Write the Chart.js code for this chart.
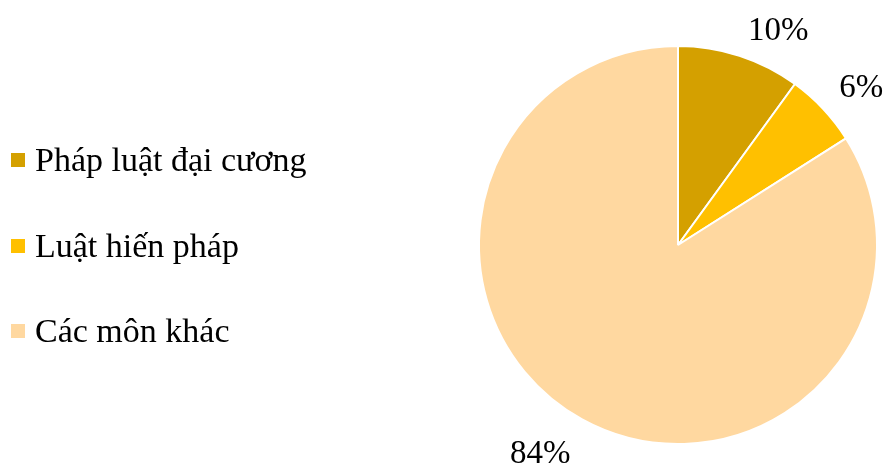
<!DOCTYPE html>
<html>
<head>
<meta charset="utf-8">
<script src="https://cdn.jsdelivr.net/npm/chart.js@4"></script>
<style>
html,body{margin:0;padding:0;background:#fff;}
#wrap{position:relative;width:887px;height:463px;}
canvas{position:absolute;left:0;top:0;}
.leg{position:absolute;left:35px;font-family:"Liberation Serif","Times New Roman",serif;font-size:34px;color:#000;line-height:34px;white-space:nowrap;}
.sq{position:absolute;left:11px;width:14px;height:14px;}
</style>
</head>
<body>
<div id="wrap">
<canvas id="c" width="887" height="463"></canvas>
<div id="legend"></div>
</div>
<script>
const categories = ["Pháp luật đại cương", "Luật hiến pháp", "Các môn khác"];
const values = [10, 6, 84];
const labels = ["10%", "6%", "84%"];
const colors = ["#D4A000", "#FFC000", "#FFD8A0"];

// HTML legend
const legendBaselines = [171, 257, 342];
const lg = document.getElementById('legend');
categories.forEach((c, i) => {
  const d = document.createElement('div');
  d.className = 'leg';
  d.style.top = (legendBaselines[i] - 28.5) + 'px';
  d.textContent = c;
  lg.appendChild(d);
  const s = document.createElement('div');
  s.className = 'sq';
  s.style.background = colors[i];
  s.style.top = (legendBaselines[i] - 18) + 'px';
  lg.appendChild(s);
});

const outLabels = {
  id: 'outLabels',
  afterDatasetsDraw(chart) {
    const ctx = chart.ctx;
    const meta = chart.getDatasetMeta(0);
    ctx.save();
    ctx.font = '33px "Liberation Serif", "Times New Roman", serif';
    ctx.fillStyle = '#000';
    meta.data.forEach((arc, i) => {
      const p = arc.getProps(['x','y','startAngle','endAngle','outerRadius'], true);
      const mid = (p.startAngle + p.endAngle) / 2;
      const R = p.outerRadius + 18;
      const ax = p.x + Math.cos(mid) * R;
      const ay = p.y + Math.sin(mid) * R;
      const right = Math.cos(mid) >= 0;
      const up = Math.sin(mid) < 0;
      ctx.textAlign = right ? 'left' : 'right';
      ctx.textBaseline = 'alphabetic';
      if (up) {
        ctx.fillText(labels[i], ax + (right ? 3 : -3), ay + 1);
      } else {
        ctx.fillText(labels[i], ax + (right ? 3 : -3), ay + 28);
      }
    });
    ctx.restore();
  }
};

new Chart(document.getElementById('c'), {
  type: 'pie',
  data: {
    labels: categories,
    datasets: [{
      data: values,
      backgroundColor: colors,
      borderColor: '#ffffff',
      borderWidth: 2
    }]
  },
  options: {
    responsive: false,
    animation: false,
    layout: { padding: { left: 478, right: 9, top: 45, bottom: 18 } },
    plugins: { legend: { display: false }, tooltip: { enabled: false } }
  },
  plugins: [outLabels]
});
</script>
</body>
</html>
